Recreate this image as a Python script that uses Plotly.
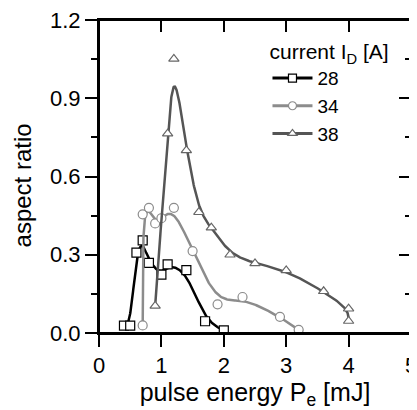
import numpy as np
import plotly.graph_objects as go

# ---- data ----
x28 = [0.40, 0.50, 0.60, 0.70, 0.80, 1.00, 1.10, 1.40, 1.70, 2.00]
y28 = [0.028, 0.028, 0.308, 0.355, 0.269, 0.224, 0.263, 0.241, 0.045, 0.010]

x34 = [0.70, 0.70, 0.80, 0.90, 1.00, 1.20, 1.50, 1.90, 2.30, 2.90, 3.20]
y34 = [0.029, 0.455, 0.480, 0.420, 0.440, 0.480, 0.314, 0.110, 0.138, 0.062, 0.012]

x38 = [0.90, 1.10, 1.20, 1.40, 1.60, 1.80, 2.10, 2.50, 3.00, 3.60, 4.00, 4.00]
y38 = [0.104, 0.764, 1.051, 0.700, 0.463, 0.404, 0.300, 0.267, 0.240, 0.160, 0.093, 0.046]

series_names = ["28", "34", "38"]


def bspline(xs, ys, n_per_seg=40):
    """Uniform cubic B-spline with the data points as control points
    (end points repeated so the curve starts and ends on them)."""
    P = np.column_stack([xs, ys]).astype(float)
    Q = np.vstack([P[:1], P[:1], P, P[-1:], P[-1:]])
    t = np.linspace(0, 1, n_per_seg)
    b0 = (1 - t) ** 3 / 6
    b1 = (3 * t ** 3 - 6 * t ** 2 + 4) / 6
    b2 = (-3 * t ** 3 + 3 * t ** 2 + 3 * t + 1) / 6
    b3 = t ** 3 / 6
    pts = []
    for i in range(len(Q) - 3):
        seg = (np.outer(b0, Q[i]) + np.outer(b1, Q[i + 1])
               + np.outer(b2, Q[i + 2]) + np.outer(b3, Q[i + 3]))
        pts.append(seg)
    pts = np.vstack(pts)
    return pts[:, 0], pts[:, 1]


styles = {
    "28": dict(color="#000000", mcolor="#000000", symbol="square"),
    "34": dict(color="#8c8c8c", mcolor="#8c8c8c", symbol="circle"),
    "38": dict(color="#555555", mcolor="#666666", symbol="triangle-up"),
}

fig = go.Figure()
for name, xs, ys in zip(series_names, [x28, x34, x38], [y28, y34, y38]):
    st = styles[name]
    cx, cy = bspline(xs, ys)
    fig.add_trace(go.Scatter(x=cx, y=cy, mode="lines",
                             line=dict(color=st["color"], width=2.5),
                             showlegend=False, hoverinfo="skip"))
    fig.add_trace(go.Scatter(x=xs, y=ys, mode="markers",
                             marker=dict(symbol=st["symbol"], size=9, color="white",
                                         line=dict(color=st["mcolor"], width=1.2)),
                             showlegend=False))
    # legend entry
    fig.add_trace(go.Scatter(x=[None], y=[None], mode="lines+markers", name=name,
                             line=dict(color=st["color"], width=3),
                             marker=dict(symbol=st["symbol"], size=8, color="white",
                                         line=dict(color=st["mcolor"], width=1.2))))

# dummy trace for mirrored axes
fig.add_trace(go.Scatter(x=[None], y=[None], xaxis="x2", yaxis="y2", showlegend=False))

fam = "Liberation Sans, Arial, sans-serif"
tickfont = dict(family=fam, size=22, color="black")
titlefont = dict(family=fam, size=25, color="black")
ytitlefont = dict(family=fam, size=24, color="black")
legtitlefont = dict(family=fam, size=21, color="black")
legfont = dict(family=fam, size=19, color="black")
axis_common = dict(showline=True, linewidth=2, linecolor="black", showgrid=False,
                   zeroline=False, tickcolor="black", tickwidth=2, automargin=False,
                   mirror=True, ticklabeloverflow="allow")

# page body has an 8px margin: figure is sized to fit the 417x410 window
fig.update_layout(
    width=409, height=402,
    margin=dict(l=91, r=6, t=12, b=77),
    paper_bgcolor="white", plot_bgcolor="white",
    font=tickfont,
    xaxis=dict(range=[0, 5], dtick=1, tick0=0, ticks="outside", ticklen=12, tickfont=tickfont,
               title=dict(text="pulse energy P<sub>e</sub> [mJ]", standoff=14, font=titlefont),
               **axis_common),
    yaxis=dict(range=[0, 1.2], dtick=0.3, tick0=0, tickformat=".1f", ticks="outside", ticklen=12,
               tickfont=tickfont,
               minor=dict(dtick=0.15, ticklen=6, ticks="outside", tickcolor="black", tickwidth=2),
               **axis_common),
    xaxis2=dict(overlaying="x", side="top", anchor="y2", range=[0, 5], dtick=1, tick0=0,
                ticks="inside", ticklen=12, showticklabels=False, **axis_common),
    yaxis2=dict(overlaying="y", side="right", anchor="x2", range=[0, 1.2], dtick=0.3, tick0=0,
                ticks="inside", ticklen=12, showticklabels=False,
                minor=dict(dtick=0.15, ticklen=6, ticks="inside", tickcolor="black", tickwidth=2),
                **axis_common),
    legend=dict(x=0.54, y=0.962, xanchor="left", yanchor="top",
                bgcolor="rgba(0,0,0,0)", borderwidth=0,
                title=dict(text="current I<sub>D</sub> [A]", font=legtitlefont),
                font=legfont, itemwidth=40, tracegroupgap=0),
    showlegend=True,
    annotations=[dict(text="aspect ratio", textangle=-90, xref="paper", yref="paper",
                      x=-0.245, y=0.47, xanchor="center", yanchor="middle",
                      showarrow=False, font=ytitlefont)],
    shapes=[dict(type="rect", xref="paper", yref="paper", x0=0, x1=1, y0=0, y1=1,
                 line=dict(color="black", width=2), fillcolor="rgba(0,0,0,0)", layer="above")],
)

fig.write_html("out.html")
